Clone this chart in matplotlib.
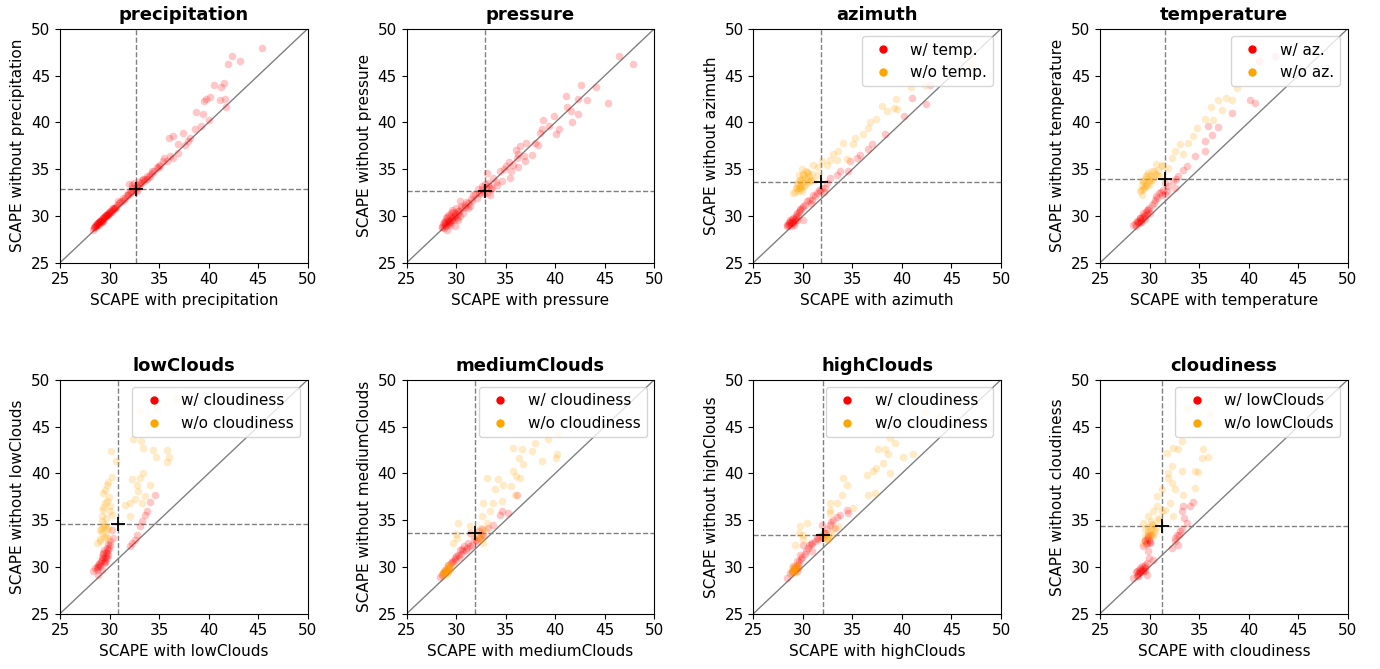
import matplotlib
matplotlib.use("Agg")
import matplotlib.pyplot as plt
from matplotlib.lines import Line2D

variables = ["precipitation", "pressure", "azimuth", "temperature",
             "lowClouds", "mediumClouds", "highClouds", "cloudiness"]

# median SCAPE (with, without) for each variable -> dashed lines and "+"
center_x = [32.67, 32.87, 31.86, 31.56, 30.89, 31.89, 32.0, 31.22]
center_y = [32.90, 32.69, 33.65, 33.94, 34.63, 33.63, 33.45, 34.34]

legend_labels = [None, None,
                 ("w/ temp.", "w/o temp."),
                 ("w/ az.", "w/o az."),
                 ("w/ cloudiness", "w/o cloudiness"),
                 ("w/ cloudiness", "w/o cloudiness"),
                 ("w/ cloudiness", "w/o cloudiness"),
                 ("w/ lowClouds", "w/o lowClouds")]

# (SCAPE with, SCAPE without) pairs
precipitation_red = [
    (45.36, 47.93), (42.36, 47.04), (43.20, 46.55), (41.99, 46.19), (40.58, 43.95),
    (41.52, 44.20), (41.22, 43.73), (40.14, 42.70), (39.74, 42.52), (39.54, 42.31),
    (41.15, 42.38), (41.69, 42.49), (41.72, 41.63), (38.73, 41.06), (39.47, 40.92),
    (40.04, 40.25), (39.23, 39.64), (38.63, 39.32), (37.42, 38.85), (36.00, 38.29),
    (36.44, 38.50), (38.16, 38.32), (37.89, 37.96), (36.94, 37.68), (37.62, 37.61),
    (36.94, 36.68), (36.10, 36.43), (35.53, 36.18), (36.44, 36.18), (35.77, 35.83),
    (35.09, 35.47), (34.93, 35.11), (34.25, 34.76), (33.75, 34.22), (33.24, 33.86),
    (32.23, 33.33), (33.08, 33.33), (32.74, 32.62), (31.90, 32.27), (31.39, 31.91),
    (30.89, 31.55), (30.38, 30.84), (30.05, 30.48), (29.71, 30.13), (29.37, 29.77),
    (29.04, 29.42), (28.70, 29.06), (28.36, 28.53),
    (28.4, 28.7), (28.6, 28.9), (28.8, 29.1), (28.9, 29.3), (29.1, 29.4),
    (29.2, 29.6), (29.4, 29.7), (29.5, 29.9), (29.7, 30.0), (29.8, 30.2),
    (30.0, 30.3), (30.2, 30.5), (30.4, 30.7), (30.6, 30.9), (30.8, 31.2),
    (31.0, 31.4), (31.3, 31.6), (31.6, 31.9), (31.8, 32.2), (32.1, 32.5),
    (32.4, 32.7), (32.6, 33.0), (32.9, 33.1), (33.2, 33.5), (33.5, 33.7),
    (33.8, 34.0), (34.1, 34.4), (34.5, 34.8), (28.7, 29.2), (29.0, 29.5),
    (29.3, 29.5), (29.6, 30.1), (29.9, 30.4), (30.3, 30.8), (32.0, 33.4),
    (32.5, 33.5), (28.5, 28.8), (28.9, 29.0), (29.2, 29.3), (34.8, 35.2),
    (28.45, 28.8), (28.55, 28.95), (28.65, 29.0), (28.75, 29.15), (28.85, 29.2),
    (28.95, 29.35), (29.05, 29.45), (29.15, 29.5), (29.25, 29.65), (29.35, 29.8),
    (29.45, 29.85), (29.55, 30.0), (29.65, 30.05), (29.75, 30.15), (29.85, 30.25),
    (29.95, 30.35), (30.1, 30.45), (30.25, 30.6), (30.5, 30.8), (30.7, 31.0),
    (31.1, 31.5), (31.5, 31.75), (31.9, 32.4), (32.2, 32.6), (32.3, 33.0),
    (32.7, 32.8), (32.8, 33.3), (33.0, 33.6), (33.4, 33.9), (33.6, 34.0),
    (34.0, 34.2), (34.3, 34.6), (35.0, 35.3), (35.4, 35.9),
]

pressure_red = [
    (46.47, 47.04), (47.88, 46.22), (42.56, 43.95), (44.15, 43.73), (41.05, 42.77),
    (42.26, 42.52), (43.20, 42.38), (45.36, 42.02), (41.18, 41.67), (41.55, 41.20),
    (42.30, 40.92), (38.73, 40.24), (39.87, 40.63), (41.66, 40.06), (39.33, 39.60),
    (40.34, 39.32), (38.63, 39.28), (40.04, 38.75), (38.46, 38.82), (38.22, 37.61),
    (37.92, 37.79), (37.05, 37.79), (36.44, 37.43), (36.04, 37.07), (37.62, 36.54),
    (36.84, 36.36), (36.10, 36.18), (36.94, 35.83), (35.77, 35.47), (35.03, 35.36),
    (36.27, 35.18), (35.53, 34.83), (34.42, 34.76), (33.14, 34.58), (35.46, 34.05),
    (34.59, 33.69), (34.08, 33.33), (33.24, 33.51), (33.65, 32.98), (32.57, 33.16),
    (33.08, 32.45), (33.41, 32.27), (32.50, 32.45), (32.07, 31.91), (31.56, 31.55),
    (30.38, 31.55), (30.89, 31.20), (31.22, 30.84), (30.22, 30.48), (30.72, 30.31),
    (29.88, 30.13), (29.21, 30.13), (29.54, 29.59), (30.22, 29.59), (28.87, 29.42),
    (29.37, 29.06), (29.88, 28.88), (28.53, 28.78), (29.04, 28.53),
    (28.6, 28.8), (28.9, 29.0), (29.1, 29.3), (29.3, 29.2), (29.5, 29.6),
    (29.0, 29.8), (29.4, 30.0), (29.7, 29.9), (29.9, 30.3), (30.1, 29.8),
    (29.2, 29.6), (28.8, 29.4), (30.3, 30.5), (30.6, 30.8), (30.0, 30.9),
    (29.6, 30.6), (30.9, 31.0), (31.2, 31.4), (31.5, 31.8), (31.9, 32.3),
    (32.3, 32.5), (32.6, 32.9), (33.0, 33.0), (32.8, 32.6), (33.3, 33.2),
    (34.0, 33.6), (33.7, 34.1), (34.8, 35.0), (35.3, 35.8), (36.2, 36.6),
    (28.7, 29.1), (28.9, 29.2), (29.0, 28.9), (29.2, 29.1), (29.3, 29.5),
    (29.4, 29.3), (29.6, 29.8), (29.8, 29.6), (29.5, 30.3), (29.1, 29.9),
    (29.9, 30.0), (30.2, 30.2), (30.4, 30.0), (29.7, 30.4), (28.8, 28.7),
    (30.5, 31.1), (31.0, 31.5), (31.7, 32.2), (32.2, 32.9), (32.9, 33.4),
    (33.5, 32.9), (31.4, 31.1),
]

azimuth_red = [
    (42.83, 43.95), (41.05, 42.59), (40.21, 40.63), (42.40, 41.99), (38.29, 38.75),
    (36.94, 37.68), (36.61, 37.18), (35.77, 36.54), (35.43, 36.18), (34.76, 35.83),
    (34.56, 34.76), (33.75, 34.76), (33.48, 34.40), (32.74, 34.05), (32.40, 33.51),
    (32.23, 32.98), (31.73, 32.62), (31.22, 32.09), (30.89, 31.73), (30.38, 31.55),
    (30.05, 31.02), (29.71, 30.66), (29.37, 30.31), (28.99, 29.77), (28.70, 29.59),
    (28.36, 29.06), (30.05, 29.59), (29.21, 29.42),
    (28.5, 29.1), (28.7, 29.3), (28.9, 29.5), (29.0, 29.2), (29.2, 29.7),
    (29.3, 29.9), (29.5, 30.0), (28.8, 28.9), (29.6, 30.4), (29.9, 30.9),
    (30.2, 31.2), (30.6, 31.7), (31.0, 32.2), (31.4, 32.4), (31.9, 33.0),
    (32.1, 32.6),
    (28.4, 28.9), (28.6, 29.0), (28.8, 29.2), (29.0, 29.4), (29.1, 29.0),
    (28.6, 29.4), (29.4, 29.6), (28.9, 29.7), (29.3, 30.1), (29.7, 30.7),
    (30.8, 31.4), (31.6, 32.8),
]

azimuth_orange = [
    (40.92, 43.73), (42.33, 44.02), (46.97, 46.22), (39.37, 42.45), (37.95, 41.70),
    (38.53, 41.17), (39.20, 41.52), (39.47, 41.42), (37.35, 40.38), (36.78, 40.03),
    (36.61, 39.39), (36.10, 38.75), (35.30, 38.32), (34.08, 37.75), (35.10, 37.68),
    (33.58, 36.89), (33.08, 36.61), (32.74, 36.00), (33.48, 36.00), (34.42, 36.08),
    (31.90, 35.83), (32.47, 35.47), (31.56, 34.40), (30.55, 34.58), (30.05, 34.40),
    (29.71, 33.69), (30.22, 33.33), (29.37, 32.98), (30.72, 33.69), (29.04, 32.45),
    (29.88, 32.62), (31.06, 33.87), (29.54, 33.51),
    (29.6, 33.8), (29.9, 34.0), (30.2, 34.1), (30.4, 33.9), (29.8, 33.3),
    (30.0, 33.6), (29.3, 33.0), (29.5, 32.7), (30.6, 34.3), (30.9, 34.5),
    (30.3, 34.8), (29.9, 35.0), (31.5, 35.2), (31.0, 35.4),
    (29.4, 33.3), (29.7, 33.1), (30.1, 33.2), (30.5, 33.6), (29.6, 34.4),
    (30.0, 34.5), (29.2, 32.6), (29.8, 32.9), (30.8, 33.8), (30.4, 34.7),
    (29.6, 33.0),
]

temperature_red = [
    (41.08, 46.51), (42.66, 47.04), (40.14, 42.41), (40.64, 42.06), (38.29, 40.99),
    (36.94, 39.46), (35.94, 39.64), (36.27, 38.68), (35.60, 37.96), (35.60, 36.89),
    (34.59, 36.43), (33.75, 35.29), (33.41, 34.94), (32.91, 34.22), (32.40, 33.69),
    (32.57, 32.98), (31.73, 32.62), (31.22, 32.27), (30.55, 31.73), (30.22, 31.20),
    (29.71, 30.66), (29.37, 30.31), (29.04, 29.77), (28.70, 29.42), (28.36, 29.06),
    (30.05, 30.31), (31.56, 33.51),
    (28.5, 29.1), (28.8, 29.3), (29.0, 29.6), (29.2, 29.9), (29.4, 30.1),
    (29.6, 30.4), (29.8, 30.6), (29.1, 29.3), (29.5, 29.7), (30.4, 31.4),
    (30.7, 31.9), (31.2, 32.6), (31.9, 33.2), (32.7, 34.0), (31.6, 32.3),
    (28.6, 28.9), (28.9, 29.2), (29.1, 29.5), (29.3, 29.8), (29.5, 30.0),
    (28.7, 29.4), (29.0, 29.8), (29.7, 30.2), (29.9, 30.8), (30.6, 32.1),
    (31.4, 32.8), (30.9, 32.4),
]

temperature_orange = [
    (38.80, 43.66), (37.72, 42.59), (38.29, 42.41), (36.94, 42.41), (36.17, 41.63),
    (37.28, 41.27), (35.60, 40.38), (36.44, 40.28), (34.76, 39.39), (34.42, 38.50),
    (33.08, 37.71), (33.92, 37.79), (32.57, 36.89), (33.41, 36.64), (32.23, 36.18),
    (31.22, 35.47), (31.83, 35.11), (30.22, 34.76), (29.71, 34.40), (29.37, 33.69),
    (29.04, 32.62), (29.54, 33.16), (30.05, 33.87), (30.72, 34.40), (29.21, 32.27),
    (30.96, 34.22),
    (29.3, 32.9), (29.6, 33.4), (29.9, 33.7), (30.3, 34.1), (29.5, 34.0),
    (29.8, 34.6), (30.5, 34.5), (29.2, 33.3), (30.8, 34.9), (31.3, 35.3),
    (30.6, 35.5),
    (29.4, 33.0), (29.7, 33.2), (30.0, 33.4), (30.2, 33.8), (29.6, 34.3),
    (29.3, 33.7), (30.0, 34.3), (29.1, 32.8), (30.4, 34.8),
]

lowclouds_red = [
    (34.56, 37.73), (34.08, 36.91), (33.75, 36.02), (33.58, 35.59), (33.24, 34.88),
    (33.08, 34.34), (32.74, 33.45), (32.57, 32.92), (32.23, 32.56), (32.07, 32.20),
    (30.22, 33.99), (30.38, 33.10), (30.05, 32.38), (29.71, 32.03), (29.37, 31.49),
    (29.88, 31.31), (29.21, 30.78), (29.54, 30.60), (28.87, 30.24), (28.70, 29.71),
    (28.36, 29.53), (29.21, 29.71), (28.87, 29.17),
    (28.8, 30.0), (29.0, 30.4), (29.3, 30.9), (29.6, 31.2), (29.4, 31.8),
    (29.7, 31.5), (29.9, 32.0), (29.5, 30.5), (29.2, 31.1), (28.5, 29.9),
    (29.8, 32.4), (30.0, 32.8),
    (28.9, 30.3), (29.1, 30.6), (29.4, 30.4), (29.6, 31.6), (29.5, 31.0),
    (29.8, 31.8), (29.3, 31.4), (29.0, 30.1), (28.7, 30.0), (29.7, 30.9),
]

lowclouds_orange = [
    (36.68, 47.90), (34.76, 47.00), (33.08, 46.65), (32.34, 43.69), (33.14, 43.44),
    (33.41, 42.65), (34.35, 42.44), (34.66, 41.73), (35.83, 42.47), (36.00, 41.76),
    (35.83, 41.23), (30.11, 42.37), (30.65, 41.30), (30.22, 39.59), (29.71, 38.73),
    (29.37, 37.91), (29.71, 37.09), (30.05, 36.48), (29.37, 36.13), (30.22, 35.59),
    (29.21, 34.88), (29.54, 34.34), (29.21, 33.63), (29.71, 33.10), (28.70, 32.56),
    (29.04, 32.74), (33.41, 40.05), (33.08, 39.52), (32.23, 39.34), (32.74, 38.80),
    (32.91, 38.09), (33.58, 37.55), (32.57, 37.20), (32.07, 36.84), (31.56, 36.66),
    (33.24, 36.84), (32.07, 35.41), (34.08, 38.80), (29.88, 34.17),
    (29.3, 34.3), (29.0, 33.9), (29.6, 35.2), (29.3, 36.4), (29.9, 37.5),
    (29.5, 38.2), (29.8, 39.1), (29.0, 33.0), (29.6, 33.4), (30.0, 36.0),
    (29.1, 34.0), (29.4, 34.6), (29.2, 35.4), (29.5, 36.8), (29.7, 34.0),
    (29.4, 33.2),
]

mediumclouds_red = [
    (36.10, 37.73), (35.26, 35.77), (34.59, 35.95), (34.42, 35.59), (33.75, 34.52),
    (33.24, 34.17), (32.74, 33.45), (32.40, 33.10), (32.07, 32.74), (31.56, 32.38),
    (31.06, 32.03), (30.72, 31.67), (30.38, 31.85), (30.22, 31.31), (29.88, 30.96),
    (29.54, 30.60), (29.21, 30.24), (28.87, 29.71), (28.53, 29.17), (28.36, 28.89),
    (31.39, 33.63),
    (28.7, 29.3), (29.0, 29.6), (29.3, 30.0), (29.7, 30.5), (30.0, 31.2),
    (30.5, 31.4), (30.8, 32.2), (31.2, 32.5), (31.8, 33.0), (32.3, 33.8),
    (32.6, 34.0),
    (28.9, 29.5), (29.2, 29.8), (29.5, 30.4), (29.9, 30.7), (30.3, 31.1),
    (30.6, 31.9), (31.0, 31.8), (31.4, 32.2), (32.0, 32.9), (32.5, 33.4),
]

mediumclouds_orange = [
    (39.30, 43.62), (40.24, 44.33), (40.14, 42.01), (40.07, 41.66), (38.70, 41.30),
    (37.95, 43.26), (37.61, 42.37), (36.37, 41.66), (36.60, 42.55), (35.69, 42.72),
    (36.77, 40.94), (35.76, 40.23), (36.00, 39.69), (36.44, 39.52), (35.53, 38.62),
    (34.25, 39.34), (34.76, 38.80), (33.07, 39.52), (33.92, 38.27), (34.59, 37.02),
    (33.75, 36.84), (32.74, 36.84), (33.41, 35.95), (32.57, 35.41), (33.07, 34.70),
    (32.40, 34.17), (32.74, 32.56), (30.22, 34.70), (31.39, 34.34), (30.05, 33.10),
    (29.71, 32.56), (29.20, 30.24), (29.04, 29.71), (28.70, 29.35), (29.37, 29.89),
    (28.87, 29.17), (35.93, 37.73),
    (28.8, 29.4), (29.1, 29.6), (29.3, 29.9), (29.0, 29.9), (28.6, 29.1),
    (29.5, 30.2), (29.2, 29.4), (30.0, 33.5), (31.8, 33.3), (32.4, 33.2),
    (32.6, 33.6), (32.9, 33.9),
    (28.9, 29.7), (29.1, 29.3), (29.4, 29.7), (28.7, 29.5), (29.2, 30.1),
    (32.2, 33.1), (32.5, 33.0),
]

highclouds_red = [
    (34.42, 36.13), (34.59, 35.77), (33.75, 35.59), (33.08, 35.06), (32.74, 34.52),
    (33.24, 34.17), (31.90, 34.52), (32.23, 33.63), (31.90, 33.10), (31.39, 33.10),
    (30.89, 32.56), (30.55, 32.03), (30.89, 31.67), (30.05, 32.38), (29.71, 31.31),
    (29.37, 30.60), (29.04, 30.06), (28.70, 29.35), (28.36, 28.82), (29.37, 29.53),
    (28.9, 29.4), (29.2, 29.8), (29.5, 30.2), (29.8, 30.8), (30.2, 31.4),
    (30.6, 32.3), (31.2, 32.8), (31.7, 33.3), (32.1, 33.6), (32.4, 34.0),
    (32.8, 34.8), (33.4, 35.3),
    (29.0, 29.6), (29.3, 30.0), (29.6, 30.5), (29.9, 31.1), (30.3, 31.7),
    (30.8, 32.4), (31.5, 33.0), (29.5, 29.9), (29.1, 29.9),
]

highclouds_orange = [
    (40.98, 47.18), (42.33, 46.65), (43.78, 46.11), (38.80, 43.79), (39.30, 43.26),
    (38.29, 42.55), (37.62, 42.55), (38.63, 42.01), (40.14, 41.76), (41.15, 42.01),
    (38.12, 41.12), (37.38, 40.59), (36.44, 39.87), (37.11, 40.23), (38.80, 40.05),
    (34.09, 39.52), (34.43, 38.80), (36.61, 37.73), (37.28, 37.91), (33.92, 37.73),
    (32.74, 36.84), (33.41, 36.84), (32.74, 36.13), (32.74, 35.77), (33.58, 34.34),
    (32.57, 32.92), (32.23, 33.10), (30.38, 34.70), (29.71, 34.34), (30.05, 33.45),
    (29.21, 32.38), (29.04, 29.71), (29.21, 30.06), (28.87, 29.53), (35.10, 36.31),
    (29.1, 29.6), (28.9, 29.9), (29.3, 30.2), (29.0, 29.3), (29.4, 30.0),
    (31.9, 33.2), (32.3, 33.5), (32.6, 33.3), (33.0, 34.0), (30.0, 33.0),
    (29.6, 33.6),
    (29.2, 29.8), (29.0, 29.6), (29.3, 29.5), (29.5, 30.0), (32.1, 33.3),
    (32.4, 33.0), (32.8, 33.4),
]

cloudiness_red = [
    (34.42, 36.95), (34.08, 36.48), (33.31, 36.02), (33.41, 36.48), (33.75, 34.70),
    (33.07, 33.81), (32.74, 33.45), (32.57, 32.74), (32.91, 32.38), (32.23, 32.03),
    (29.88, 33.45), (29.54, 32.74), (30.05, 32.56), (29.37, 32.20), (29.88, 31.67),
    (29.54, 30.24), (29.04, 29.89), (28.70, 29.53), (29.37, 29.53), (28.36, 28.82),
    (29.71, 29.17), (28.87, 29.00), (30.38, 30.78),
    (28.8, 29.2), (29.0, 29.5), (29.2, 29.8), (29.4, 30.0), (28.6, 29.4),
    (29.5, 29.6), (29.7, 30.4), (29.9, 31.0), (29.7, 33.0), (29.9, 32.9),
    (30.1, 33.4), (29.6, 32.4), (32.6, 33.1), (33.0, 33.4), (33.3, 34.0),
    (33.5, 35.2),
    (28.7, 29.0), (28.9, 29.3), (29.1, 29.6), (29.3, 29.7), (29.5, 29.9),
    (29.2, 30.1), (28.9, 29.7), (29.8, 33.2), (30.0, 32.7), (29.5, 32.9),
    (29.7, 32.6),
]

cloudiness_orange = [
    (33.75, 47.00), (36.10, 46.29), (33.24, 43.44), (32.40, 42.72), (32.91, 42.55),
    (31.73, 42.19), (35.43, 42.55), (35.94, 41.73), (35.26, 41.66), (32.23, 40.77),
    (31.90, 40.05), (34.59, 40.23), (34.93, 40.16), (33.24, 40.23), (31.90, 39.52),
    (32.23, 38.98), (31.22, 38.27), (30.72, 37.55), (34.59, 38.45), (33.41, 37.73),
    (32.57, 38.27), (32.07, 36.84), (31.56, 36.13), (30.72, 36.48), (30.38, 35.95),
    (29.88, 35.41), (30.89, 35.23), (32.40, 35.41), (29.37, 34.70), (30.38, 34.52),
    (30.05, 33.81), (29.54, 33.27), (29.37, 32.56), (31.22, 35.95),
    (29.8, 33.8), (30.2, 34.0), (30.4, 33.6), (29.9, 33.2), (30.6, 34.3),
    (30.1, 34.9), (29.5, 34.1), (30.9, 35.0),
    (30.0, 33.5), (30.3, 33.3), (29.8, 34.3), (30.2, 34.6), (30.5, 33.9),
]

red_sets = [precipitation_red, pressure_red, azimuth_red, temperature_red,
            lowclouds_red, mediumclouds_red, highclouds_red, cloudiness_red]
orange_sets = [None, None, azimuth_orange, temperature_orange,
               lowclouds_orange, mediumclouds_orange, highclouds_orange, cloudiness_orange]

plt.rcParams["font.size"] = 11

fig, axes = plt.subplots(2, 4, figsize=(13.8, 6.69), dpi=100)
fig.subplots_adjust(left=0.0435, right=0.9766, top=0.957, bottom=0.0827,
                    wspace=0.4, hspace=0.5)

for i, ax in enumerate(axes.flat):
    name = variables[i]
    ax.plot([25, 50], [25, 50], color="gray", lw=1, zorder=1)
    ax.axvline(center_x[i], color="gray", ls="--", lw=1, zorder=1)
    ax.axhline(center_y[i], color="gray", ls="--", lw=1, zorder=1)

    pts = red_sets[i]
    ax.scatter([p[0] for p in pts], [p[1] for p in pts], s=30, color="red",
               alpha=0.22, linewidths=0, zorder=2)
    if orange_sets[i] is not None:
        pts = orange_sets[i]
        ax.scatter([p[0] for p in pts], [p[1] for p in pts], s=30, color="orange",
                   alpha=0.22, linewidths=0, zorder=2)

    ax.plot(center_x[i], center_y[i], "+", color="black", ms=10, mew=1.3, zorder=3)

    ax.set_xlim(25, 50)
    ax.set_ylim(25, 50)
    ax.set_xticks([25, 30, 35, 40, 45, 50])
    ax.set_yticks([25, 30, 35, 40, 45, 50])
    ax.set_title(name, fontsize=13, fontweight="bold")
    ax.set_xlabel("SCAPE with " + name)
    ax.set_ylabel("SCAPE without " + name)

    if legend_labels[i] is not None:
        handles = [Line2D([], [], marker="o", ls="none", color="red", ms=5),
                   Line2D([], [], marker="o", ls="none", color="orange", ms=5)]
        ax.legend(handles, legend_labels[i], loc="upper right")

fig.savefig("out.png", dpi=100)
